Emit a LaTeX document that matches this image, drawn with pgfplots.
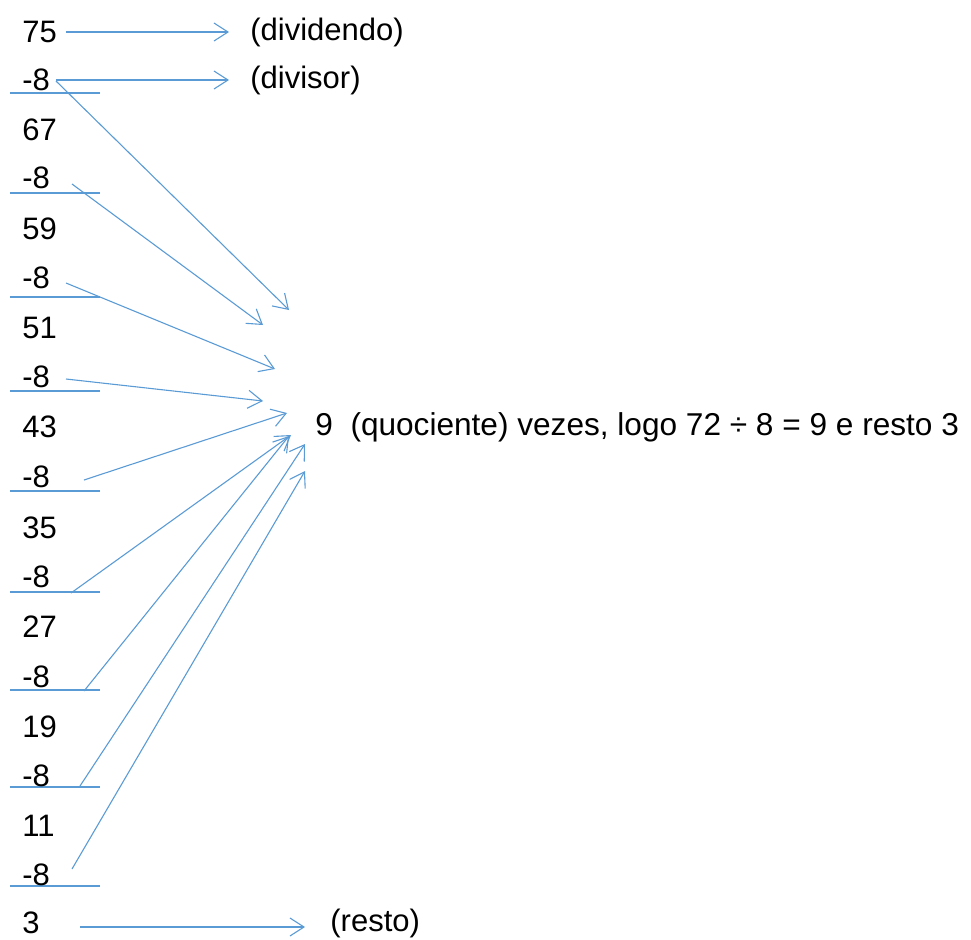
\documentclass[border=0pt]{standalone}
\usepackage{pgfplots}
\pgfplotsset{compat=1.18}
\usepackage{fontspec}
\setmainfont{Liberation Sans}
\usetikzlibrary{arrows.meta}
\definecolor{lb}{HTML}{5B9BD5}
\tikzset{
  ln/.style={lb, line width=0.55pt, mark=none},
  ar/.style={ln, -{Straight Barb[length=7pt,width=9pt,line width=0.55pt]}},
  tx/.style={anchor=west, inner sep=0pt, font=\fontsize{15.5}{18}\selectfont},
}
\begin{document}
\begin{tikzpicture}
\begin{axis}[
  scale only axis, width=485.5pt, height=469.5pt,
  xmin=0, xmax=971, ymin=0, ymax=939, y dir=reverse,
  hide axis, clip=false,
]
% underlines
\addplot[ln] coordinates {(10,93) (100,93)};
\addplot[ln] coordinates {(10,193) (100,193)};
\addplot[ln] coordinates {(10,297) (100,297)};
\addplot[ln] coordinates {(10,391) (100,391)};
\addplot[ln] coordinates {(10,491) (100,491)};
\addplot[ln] coordinates {(10,592) (100,592)};
\addplot[ln] coordinates {(10,690) (100,690)};
\addplot[ln] coordinates {(10,787) (100,787)};
\addplot[ln] coordinates {(10,886) (100,886)};
% horizontal arrows
\addplot[ar] coordinates {(66,32) (229,32)};
\addplot[ar] coordinates {(56,80) (229,80)};
\addplot[ar] coordinates {(80,927) (305,927)};
% arrows to quotient
\addplot[ar] coordinates {(56,81) (289,310)};
\addplot[ar] coordinates {(72,184) (263,325)};
\addplot[ar] coordinates {(66,283) (275,369)};
\addplot[ar] coordinates {(66,379) (263,401)};
\addplot[ar] coordinates {(84,480) (287,413)};
\addplot[ar] coordinates {(71,593) (291,435)};
\addplot[ar] coordinates {(84,691) (289,436)};
\addplot[ar] coordinates {(80,786) (305,444)};
\addplot[ar] coordinates {(72,869) (305,471)};
% texts
\node[tx] at (axis cs:22,32) {75};
\node[tx] at (axis cs:22,80) {-8};
\node[tx] at (axis cs:22,130) {67};
\node[tx] at (axis cs:22,178) {-8};
\node[tx] at (axis cs:22,229) {59};
\node[tx] at (axis cs:22,278) {-8};
\node[tx] at (axis cs:22,328) {51};
\node[tx] at (axis cs:22,377) {-8};
\node[tx] at (axis cs:22,427) {43};
\node[tx] at (axis cs:22,477) {-8};
\node[tx] at (axis cs:22,528) {35};
\node[tx] at (axis cs:22,577) {-8};
\node[tx] at (axis cs:22,627) {27};
\node[tx] at (axis cs:22,677) {-8};
\node[tx] at (axis cs:22,727) {19};
\node[tx] at (axis cs:22,776) {-8};
\node[tx] at (axis cs:22,826) {11};
\node[tx] at (axis cs:22,875) {-8};
\node[tx] at (axis cs:22,923) {3};
\node[tx] at (axis cs:250,32) {(dividendo)};
\node[tx] at (axis cs:250,80) {(divisor)};
\node[tx] at (axis cs:330,923) {(resto)};
\node[tx, font=\fontsize{15.8}{18}\selectfont] at (axis cs:315,427) {9\ \ (quociente) vezes, logo 72 ÷ 8 = 9 e resto 3};
\end{axis}
\pgfresetboundingbox
\path (current axis.south west) rectangle (current axis.north east);
\end{tikzpicture}
\end{document}
